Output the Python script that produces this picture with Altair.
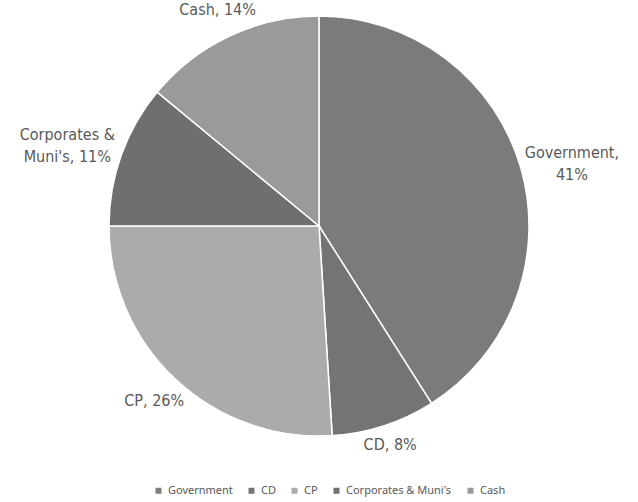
import math
import altair as alt
import pandas as pd

categories = ["Government", "CD", "CP", "Corporates & Muni's", "Cash"]
values = [41, 8, 26, 11, 14]
label_lines = [["Government,", "41%"], ["CD, 8%"], ["CP, 26%"], ["Corporates &", "Muni's, 11%"], ["Cash, 14%"]]
colors = ["#7b7b7b", "#747474", "#ababab", "#6f6f6f", "#9a9a9a"]

R = 210
total = sum(values)
rows = []
cum = 0
for i, (c, v, lines) in enumerate(zip(categories, values, label_lines)):
    mid = (cum + v / 2) / total * 2 * math.pi
    cum += v
    hw = max(len(s) for s in lines) * 4.2
    hh = len(lines) * 9
    r = R + 4 + hw * abs(math.sin(mid)) + hh * abs(math.cos(mid))
    rows.append({"cat": c, "value": v, "idx": i, "label": "\n".join(lines), "r": r, "mid": mid})
df = pd.DataFrame(rows)

arcs = alt.Chart(df).mark_arc(radius=R, stroke="white", strokeWidth=1.5).encode(
    theta=alt.Theta("value:Q", stack=True),
    order=alt.Order("idx:Q"),
    color=alt.Color(
        "cat:N",
        scale=alt.Scale(domain=categories, range=colors),
        sort=categories,
        legend=alt.Legend(
            title=None,
            orient="none",
            direction="horizontal",
            legendX=153,
            legendY=485,
            symbolType="square",
            symbolSize=36,
            symbolStrokeWidth=0,
            labelFont="Noto Sans",
            labelFontSize=11,
            labelColor="#595959",
            labelOffset=4,
            columnPadding=13,
        ),
    ),
)

labels = alt.Chart(df).mark_text(
    font="Liberation Sans Narrow, DejaVu Sans Condensed, Roboto",
    fontSize=16,
    color="#595959",
    lineBreak="\n",
    lineHeight=22,
    align="center",
    baseline="middle",
).encode(
    text="label:N",
    theta=alt.Theta("mid:Q", scale=None),
    radius=alt.Radius("r:Q", scale=None),
)

chart = (
    alt.layer(arcs, labels)
    .properties(
        width=638,
        height=452,
        padding={"left": 0, "top": 0, "right": 0, "bottom": 50},
        autosize=alt.AutoSizeParams(type="none"),
    )
    .configure_view(stroke=None)
    .configure(background="white")
)

chart.save("out.html", embed_options={"renderer": "svg", "actions": False})
